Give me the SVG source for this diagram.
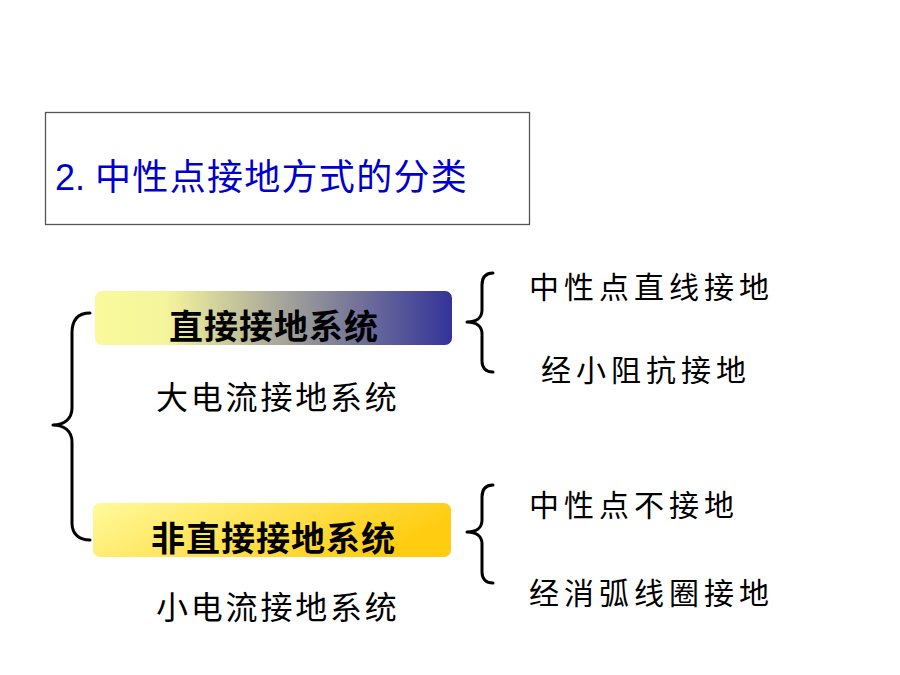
<svg xmlns="http://www.w3.org/2000/svg" width="900" height="675" viewBox="0 0 900 675">
<defs>
<linearGradient id="gBlue" x1="0" y1="0" x2="1" y2="0">
<stop offset="0" stop-color="#FAFA9C"/>
<stop offset="0.2" stop-color="#F4F49C"/>
<stop offset="1" stop-color="#333399"/>
</linearGradient>
<linearGradient id="gGold" x1="0" y1="0" x2="1" y2="0.3">
<stop offset="0" stop-color="#FFFA9C"/>
<stop offset="1" stop-color="#FFCC11"/>
</linearGradient>
<style>
.cjk{font-family:"Noto Sans CJK SC","Noto Sans CJK JP",sans-serif;fill:#000;}
.lbl{font-size:30px;letter-spacing:5px;}
.sub{font-size:32px;letter-spacing:2.8px;}
.box{font-size:34px;font-weight:bold;letter-spacing:1px;}
.brace{fill:none;stroke:#000;stroke-width:3;stroke-linecap:round;stroke-linejoin:round;}
</style>
</defs>
<rect width="900" height="675" fill="#fff"/>
<g id="title">
<rect x="45.5" y="112.5" width="484" height="112" fill="#fff" stroke="#555" stroke-width="1.3"/>
<text x="55" y="190" font-family="'Liberation Sans','Noto Sans CJK SC',sans-serif" font-size="36" fill="#0000CC">2. <tspan letter-spacing="1.3">中性点接地方式的分类</tspan></text>
</g>
<g id="direct">
<rect x="95" y="291" width="357" height="54" rx="7" fill="url(#gBlue)"/>
<text class="cjk box" x="169" y="339">直接接地系统</text>
</g>
<g id="direct-sub">
<text class="cjk sub" x="156" y="409">大电流接地系统</text>
</g>
<g id="indirect">
<rect x="93" y="503" width="358" height="54" rx="7" fill="url(#gGold)"/>
<text class="cjk box" x="151" y="551">非直接接地系统</text>
</g>
<g id="indirect-sub">
<text class="cjk sub" x="156" y="619">小电流接地系统</text>
</g>
<g id="n1"><text class="cjk lbl" x="529" y="298">中性点直线接地</text></g>
<g id="n2"><text class="cjk lbl" x="541" y="381">经小阻抗接地</text></g>
<g id="n3"><text class="cjk lbl" x="529" y="516">中性点不接地</text></g>
<g id="n4"><text class="cjk lbl" x="529" y="604">经消弧线圈接地</text></g>
<g id="connectors">
<path class="brace" d="M90,313 C78,313 72,320 72,333 L72,408 C72,419 64,425 53,425 C64,425 72,431 72,442 L72,523 C72,534 79,540 90,540"/>
<path class="brace" d="M493,273 C486,273 482,277 482,285 L482,310 C482,318 476,322 467,322 C476,322 482,326 482,334 L482,361 C482,368 486,372 493,372"/>
<path class="brace" d="M493,485 C486,485 482,489 482,497 L482,520 C482,528 476,532 467,532 C476,532 482,536 482,544 L482,572 C482,579 486,583 493,583"/>
</g>
</svg>
